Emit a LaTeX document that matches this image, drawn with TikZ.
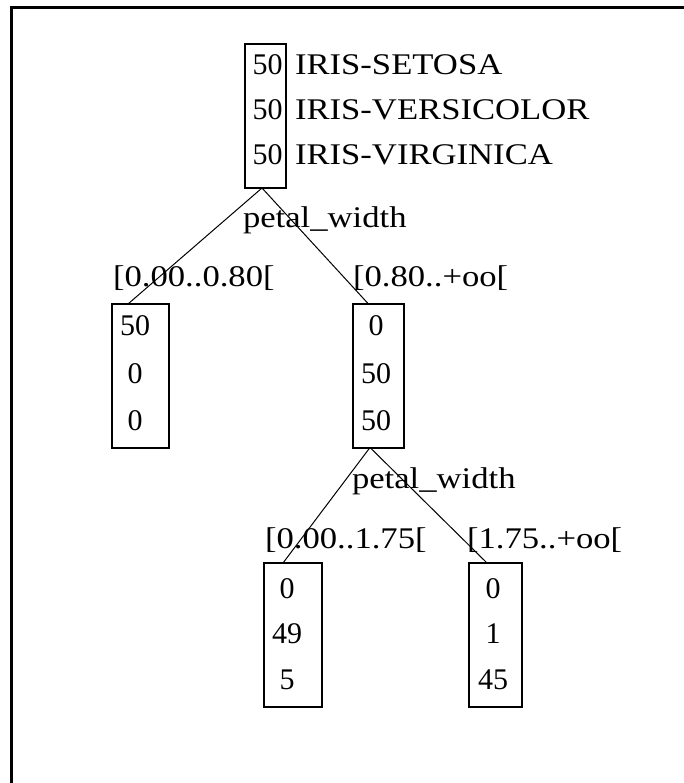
\documentclass[tikz,border=0pt]{standalone}
\usepackage{fontspec}
\setmainfont{Liberation Serif}
\usetikzlibrary{calc}
\newcommand{\lbltxt}[1]{\scalebox{1.155}[1]{#1}}
\begin{document}
\begin{tikzpicture}[x=1pt,y=-1pt,
  every node/.style={inner sep=0pt,outer sep=0pt,font=\fontsize{30}{36}\selectfont},
  treebox/.style={draw,line width=2pt,minimum width=#1,minimum height=144pt},
  num/.style={anchor=base},
  lbl/.style={anchor=base west},
  edge/.style={line width=1pt},
  frameline/.style={line width=3pt}]
\useasboundingbox (0,0) rectangle (684,783);
\fill[white] (0,0) rectangle (684,783);
\draw[frameline] (11,783) -- (11,7.5) -- (684,7.5);

% boxes
\node[treebox=41pt] (root) at (265.5,116) {};
\node[treebox=57pt] (l1) at (140.5,376) {};
\node[treebox=51pt] (r1) at (378.5,375.5) {};
\node[treebox=58pt] (l2) at (293,635) {};
\node[treebox=53pt] (r2) at (495.5,635) {};

% root contents
\node[num] (rn1) at (267.5,75) {50};
\node[num] (rn2) at (267.5,120) {50};
\node[num] (rn3) at (267.5,165) {50};
\node[lbl] (rc1) at (295,75) {\lbltxt{IRIS-SETOSA}};
\node[lbl] (rc2) at (295,120) {\lbltxt{IRIS-VERSICOLOR}};
\node[lbl] (rc3) at (295,165) {\lbltxt{IRIS-VIRGINICA}};

% level 1 split
\node[lbl] (s1) at (243,228) {\lbltxt{petal\_width}};
\node[lbl] (c1) at (113,287) {\lbltxt{[0.00..0.80[}};
\node[lbl] (c2) at (353,286) {\lbltxt{[0.80..+oo[}};

% left leaf
\node[num] (ln1) at (135,335) {50};
\node[num] (ln2) at (135,383) {0};
\node[num] (ln3) at (135,430) {0};

% right inner
\node[num] (mn1) at (376,335) {0};
\node[num] (mn2) at (376,383) {50};
\node[num] (mn3) at (376,430) {50};

% level 2 split
\node[lbl] (s2) at (352,488) {\lbltxt{petal\_width}};
\node[lbl] (c3) at (265,548) {\lbltxt{[0.00..1.75[}};
\node[lbl] (c4) at (467,548) {\lbltxt{[1.75..+oo[}};

% bottom leaves
\node[num] (an1) at (287,598) {0};
\node[num] (an2) at (287,643) {49};
\node[num] (an3) at (287,689) {5};
\node[num] (bn1) at (493,598) {0};
\node[num] (bn2) at (493,643) {1};
\node[num] (bn3) at (493,689) {45};

% connectors
\draw[edge] ([xshift=-3.5pt]root.south) -- ([xshift=-12.5pt]l1.north);
\draw[edge] ([xshift=-3.5pt]root.south) -- ([xshift=-10.5pt]r1.north);
\draw[edge] ([xshift=-8.5pt]r1.south) -- ([xshift=-10pt]l2.north);
\draw[edge] ([xshift=-8.5pt]r1.south) -- ([xshift=-8.5pt]r2.north);
\end{tikzpicture}
\end{document}
